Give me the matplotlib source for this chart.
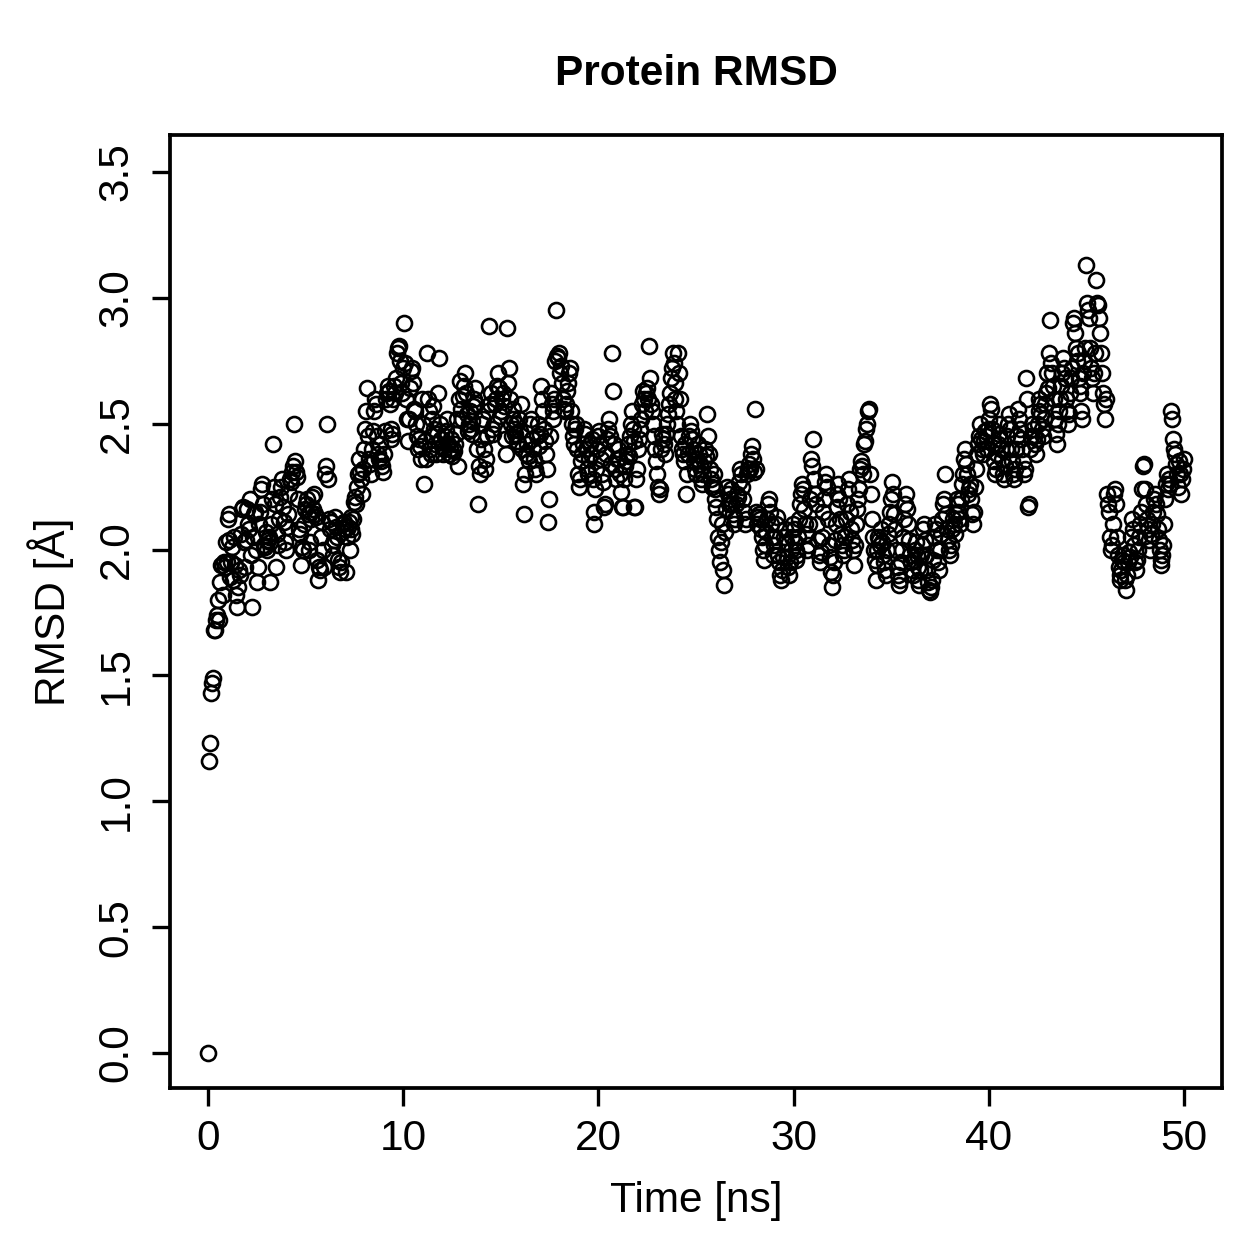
import numpy as np
import matplotlib.pyplot as plt

# Protein RMSD trajectory, one frame every 0.05 ns (0 - 50 ns)
time_step_ns = 0.05

rmsd = [
    # 0 - 1 ns
    0.00, 1.16, 1.23, 1.43, 1.47, 1.49, 1.68, 1.68, 1.72, 1.74, 1.80, 1.72, 1.87, 1.94, 1.94, 1.82, 1.95, 1.93, 2.03, 1.95,
    # 1 - 2
    2.12, 2.14, 2.04, 1.89, 1.95, 2.01, 1.88, 2.05, 1.94, 1.82, 1.77, 1.85, 1.92, 1.90, 2.06, 2.16, 2.17, 2.03, 1.93, 2.04,
    # 2 - 3
    2.16, 2.10, 2.08, 2.20, 1.98, 1.77, 2.05, 2.14, 2.15, 2.00, 1.87, 1.93, 2.10, 2.15, 2.24, 2.26, 2.18, 2.02, 2.01, 2.07,
    # 3 - 4
    2.00, 2.04, 2.05, 1.87, 2.03, 2.10, 2.20, 2.42, 2.25, 2.18, 1.93, 2.06, 2.02, 2.12, 2.21, 2.25, 2.28, 2.17, 2.11, 2.03,
    # 4 - 5
    2.00, 2.09, 2.14, 2.22, 2.28, 2.27, 2.31, 2.33, 2.50, 2.35, 2.31, 2.29, 2.20, 2.08, 2.06, 1.94, 2.01, 2.00, 2.10, 2.16,
    # 5 - 6
    2.18, 2.20, 2.14, 2.00, 2.03, 2.15, 2.12, 2.21, 2.16, 2.22, 2.14, 2.13, 1.96, 1.88, 1.93, 1.92, 2.05, 2.11, 2.00, 1.93,
    # 6 - 7
    2.30, 2.33, 2.50, 2.28, 2.12, 2.08, 2.11, 2.02, 1.98, 2.04, 2.13, 2.09, 2.05, 1.96, 1.93, 1.91, 1.95, 2.07, 2.10, 2.11,
    # 7 - 8
    2.08, 1.91, 2.05, 2.09, 2.11, 2.00, 2.08, 2.13, 2.06, 2.12, 2.19, 2.21, 2.18, 2.25, 2.30, 2.36, 2.31, 2.28, 2.22, 2.32,
    # 8 - 9
    2.40, 2.48, 2.55, 2.64, 2.45, 2.36, 2.34, 2.30, 2.40, 2.47, 2.55, 2.60, 2.58, 2.45, 2.38, 2.36, 2.42, 2.35, 2.33, 2.31,
    # 9 - 10
    2.38, 2.47, 2.60, 2.62, 2.65, 2.63, 2.58, 2.48, 2.44, 2.46, 2.60, 2.65, 2.62, 2.68, 2.78, 2.80, 2.81, 2.75, 2.66, 2.62,
    # 10 - 11
    2.72, 2.90, 2.74, 2.60, 2.52, 2.43, 2.52, 2.64, 2.71, 2.72, 2.66, 2.56, 2.55, 2.50, 2.45, 2.40, 2.44, 2.41, 2.36, 2.60,
    # 11 - 12
    2.50, 2.26, 2.43, 2.36, 2.78, 2.60, 2.55, 2.40, 2.38, 2.45, 2.52, 2.57, 2.48, 2.42, 2.38, 2.46, 2.62, 2.76, 2.50, 2.44,
    # 12 - 13
    2.41, 2.38, 2.40, 2.45, 2.47, 2.52, 2.42, 2.38, 2.40, 2.44, 2.37, 2.40, 2.39, 2.42, 2.46, 2.52, 2.33, 2.60, 2.67, 2.56,
    # 13 - 14
    2.52, 2.61, 2.65, 2.70, 2.62, 2.54, 2.47, 2.50, 2.55, 2.48, 2.46, 2.51, 2.57, 2.60, 2.64, 2.58, 2.40, 2.18, 2.33, 2.30,
    # 14 - 15
    2.44, 2.50, 2.52, 2.40, 2.32, 2.36, 2.45, 2.55, 2.89, 2.58, 2.62, 2.48, 2.46, 2.50, 2.58, 2.60, 2.65, 2.70, 2.64, 2.53,
    # 15 - 16
    2.55, 2.60, 2.62, 2.57, 2.44, 2.38, 2.88, 2.66, 2.72, 2.60, 2.50, 2.45, 2.52, 2.56, 2.48, 2.46, 2.50, 2.43, 2.42, 2.52,
    # 16 - 17
    2.47, 2.58, 2.40, 2.26, 2.14, 2.30, 2.38, 2.42, 2.37, 2.35, 2.50, 2.52, 2.44, 2.40, 2.36, 2.32, 2.30, 2.45, 2.50, 2.41,
    # 17 - 18
    2.46, 2.65, 2.60, 2.55, 2.48, 2.43, 2.38, 2.32, 2.11, 2.20, 2.45, 2.62, 2.58, 2.52, 2.55, 2.60, 2.75, 2.95, 2.77, 2.76,
    # 18 - 19
    2.78, 2.70, 2.73, 2.66, 2.60, 2.56, 2.55, 2.58, 2.63, 2.66, 2.70, 2.72, 2.55, 2.50, 2.45, 2.42, 2.48, 2.50, 2.40, 2.30,
    # 19 - 20
    2.25, 2.28, 2.35, 2.38, 2.42, 2.48, 2.46, 2.40, 2.32, 2.30, 2.36, 2.42, 2.38, 2.44, 2.28, 2.15, 2.10, 2.24, 2.32, 2.40,
    # 20 - 21
    2.45, 2.47, 2.42, 2.36, 2.30, 2.27, 2.17, 2.18, 2.38, 2.44, 2.48, 2.52, 2.45, 2.34, 2.78, 2.63, 2.42, 2.32, 2.28, 2.36,
    # 21 - 22
    2.40, 2.36, 2.30, 2.23, 2.17, 2.17, 2.28, 2.33, 2.35, 2.38, 2.42, 2.37, 2.45, 2.50, 2.55, 2.48, 2.43, 2.17, 2.17, 2.28,
    # 22 - 23
    2.32, 2.40, 2.44, 2.48, 2.52, 2.58, 2.63, 2.60, 2.55, 2.62, 2.64, 2.60, 2.81, 2.68, 2.58, 2.55, 2.50, 2.45, 2.40, 2.35,
    # 23 - 24
    2.30, 2.25, 2.22, 2.24, 2.40, 2.46, 2.44, 2.42, 2.38, 2.46, 2.50, 2.54, 2.58, 2.62, 2.68, 2.72, 2.78, 2.74, 2.66, 2.60,
    # 24 - 25
    2.55, 2.50, 2.78, 2.70, 2.60, 2.45, 2.40, 2.38, 2.35, 2.42, 2.22, 2.30, 2.38, 2.45, 2.50, 2.47, 2.44, 2.40, 2.35, 2.32,
    # 25 - 26
    2.30, 2.36, 2.42, 2.38, 2.34, 2.28, 2.26, 2.30, 2.35, 2.40, 2.37, 2.54, 2.45, 2.38, 2.32, 2.28, 2.25, 2.26, 2.30, 2.24,
    # 26 - 27
    2.20, 2.17, 2.12, 2.05, 2.00, 1.95, 2.03, 2.10, 1.92, 1.86, 2.07, 2.16, 2.25, 2.22, 2.18, 2.20, 2.24, 2.18, 2.14, 2.10,
    # 27 - 28
    2.12, 2.18, 2.22, 2.21, 2.27, 2.32, 2.30, 2.25, 2.20, 2.15, 2.10, 2.12, 2.30, 2.32, 2.34, 2.32, 2.38, 2.41, 2.36, 2.31,
    # 28 - 29
    2.56, 2.32, 2.15, 2.10, 2.13, 2.14, 2.12, 2.08, 2.05, 2.00, 1.96, 2.02, 2.07, 2.12, 2.18, 2.20, 2.15, 2.10, 2.05, 1.98,
    # 29 - 30
    2.02, 2.05, 2.10, 2.13, 1.98, 1.95, 1.90, 1.88, 1.92, 1.97, 2.05, 2.08, 2.03, 1.97, 1.93, 1.90, 1.95, 2.00, 2.05, 2.10,
    # 30 - 31
    2.08, 2.03, 2.00, 1.96, 1.98, 2.05, 2.12, 2.18, 2.22, 2.26, 2.24, 2.16, 2.10, 2.06, 2.00, 2.02, 2.10, 2.20, 2.36, 2.33,
    # 31 - 32
    2.44, 2.28, 2.22, 2.18, 2.10, 2.04, 1.98, 1.95, 1.99, 2.05, 2.15, 2.20, 2.27, 2.30, 2.25, 2.12, 2.02, 1.97, 1.91, 1.85,
    # 32 - 33
    1.90, 1.95, 2.04, 2.10, 2.17, 2.22, 2.26, 2.20, 2.12, 2.06, 2.02, 1.98, 2.00, 2.05, 2.12, 2.18, 2.24, 2.28, 2.15, 2.08,
    # 33 - 34
    2.04, 2.00, 1.94, 2.02, 2.10, 2.16, 2.20, 2.24, 2.32, 2.35, 2.33, 2.30, 2.42, 2.43, 2.48, 2.50, 2.55, 2.56, 2.30, 2.22,
    # 34 - 35
    2.12, 2.05, 2.00, 1.96, 1.88, 1.94, 2.00, 2.05, 2.04, 2.02, 2.08, 2.03, 1.98, 1.95, 1.92, 1.90, 2.00, 2.06, 2.10, 2.15,
    # 35 - 36
    2.20, 2.27, 2.22, 2.14, 2.08, 2.00, 1.93, 1.90, 1.86, 1.88, 1.95, 2.00, 2.05, 2.12, 2.18, 2.22, 2.16, 2.10, 2.04, 1.98,
    # 36 - 37
    1.95, 1.92, 1.90, 1.96, 2.00, 2.03, 1.98, 1.93, 1.88, 1.86, 1.92, 1.98, 2.02, 2.08, 2.10, 2.04, 1.98, 1.92, 1.87, 1.84,
    # 37 - 38
    1.83, 1.85, 1.88, 1.96, 2.05, 2.10, 2.08, 2.00, 1.95, 1.92, 2.00, 2.06, 2.12, 2.18, 2.20, 2.30, 2.14, 2.08, 2.04, 2.00,
    # 38 - 39
    1.98, 2.02, 2.08, 2.12, 2.10, 2.06, 2.14, 2.20, 2.18, 2.15, 2.12, 2.10, 2.20, 2.26, 2.30, 2.36, 2.40, 2.34, 2.30, 2.22,
    # 39 - 40
    2.24, 2.26, 2.20, 2.14, 2.10, 2.15, 2.25, 2.32, 2.38, 2.42, 2.45, 2.50, 2.44, 2.40, 2.38, 2.43, 2.47, 2.45, 2.40, 2.48,
    # 40 - 41
    2.52, 2.58, 2.56, 2.48, 2.42, 2.35, 2.30, 2.32, 2.38, 2.42, 2.46, 2.50, 2.44, 2.40, 2.36, 2.30, 2.28, 2.33, 2.40, 2.45,
    # 41 - 42
    2.50, 2.54, 2.48, 2.40, 2.35, 2.30, 2.28, 2.32, 2.40, 2.45, 2.56, 2.52, 2.48, 2.44, 2.40, 2.35, 2.30, 2.32, 2.68, 2.60,
    # 42 - 43
    2.17, 2.18, 2.40, 2.45, 2.50, 2.48, 2.45, 2.42, 2.38, 2.44, 2.50, 2.55, 2.60, 2.58, 2.54, 2.48, 2.45, 2.52, 2.58, 2.62,
    # 43 - 44
    2.70, 2.64, 2.78, 2.91, 2.74, 2.70, 2.65, 2.60, 2.52, 2.46, 2.42, 2.50, 2.55, 2.60, 2.65, 2.70, 2.76, 2.72, 2.68, 2.60,
    # 44 - 45
    2.55, 2.50, 2.54, 2.62, 2.68, 2.72, 2.90, 2.92, 2.86, 2.80, 2.75, 2.78, 2.68, 2.65, 2.62, 2.55, 2.52, 2.70, 2.75, 2.80,
    # 45 - 46
    3.13, 2.98, 2.95, 2.92, 2.80, 2.72, 2.68, 2.62, 2.70, 2.78, 3.07, 2.98, 2.97, 2.92, 2.86, 2.78, 2.70, 2.62, 2.58, 2.52,
    # 46 - 47
    2.60, 2.22, 2.18, 2.15, 2.05, 2.00, 2.02, 2.10, 2.22, 2.24, 2.18, 2.05, 1.98, 1.93, 1.90, 1.88, 1.92, 1.96, 1.98, 1.95,
    # 47 - 48
    1.88, 1.84, 1.90, 1.95, 1.99, 1.97, 2.05, 2.12, 2.08, 2.02, 1.95, 1.92, 1.96, 2.00, 2.05, 2.10, 2.15, 2.24, 2.33, 2.34,
    # 48 - 49
    2.24, 2.18, 2.12, 2.08, 2.04, 2.00, 2.06, 2.10, 2.15, 2.20, 2.22, 2.18, 2.14, 2.08, 2.04, 2.00, 1.96, 1.94, 1.98, 2.02,
    # 49 - 50
    2.10, 2.20, 2.26, 2.30, 2.24, 2.28, 2.26, 2.55, 2.52, 2.44, 2.40, 2.38, 2.34, 2.30, 2.25, 2.35, 2.30, 2.22, 2.28, 2.32, 2.36,
]

x_ticks = [0, 10, 20, 30, 40, 50]
y_ticks = [0.0, 0.5, 1.0, 1.5, 2.0, 2.5, 3.0, 3.5]

time_ns = np.arange(len(rmsd)) * time_step_ns

plt.rcParams['font.family'] = ['Liberation Sans', 'DejaVu Sans']

fig = plt.figure(figsize=(12.59, 12.59), dpi=100)
ax = fig.add_axes([0.135, 0.1358, 0.8356, 0.757])

# open circles, R style (pch = 1)
ax.plot(time_ns, rmsd, linestyle='none', marker='o', markersize=10.8,
        markerfacecolor='none', markeredgecolor='black', markeredgewidth=1.9)

ax.set_xlim(-1.95, 51.95)
ax.set_ylim(-0.139, 3.647)
ax.set_xticks(x_ticks)
ax.set_xticklabels([str(t) for t in x_ticks])
ax.set_yticks(y_ticks)
ax.set_yticklabels(['%.1f' % v for v in y_ticks], rotation=90, va='center')

ax.tick_params(direction='out', length=13, width=2.4, labelsize=30.5, pad=9)
ax.tick_params(axis='y', pad=11)
for s in ax.spines.values():
    s.set_linewidth(2.7)

ax.set_xlabel('Time [ns]', fontsize=30.5, labelpad=16)
ax.set_ylabel('RMSD [Å]', fontsize=30.5, labelpad=16)
ax.set_title('Protein RMSD', fontsize=30.5, fontweight='bold', pad=36)

fig.savefig('out.png', dpi=100)
